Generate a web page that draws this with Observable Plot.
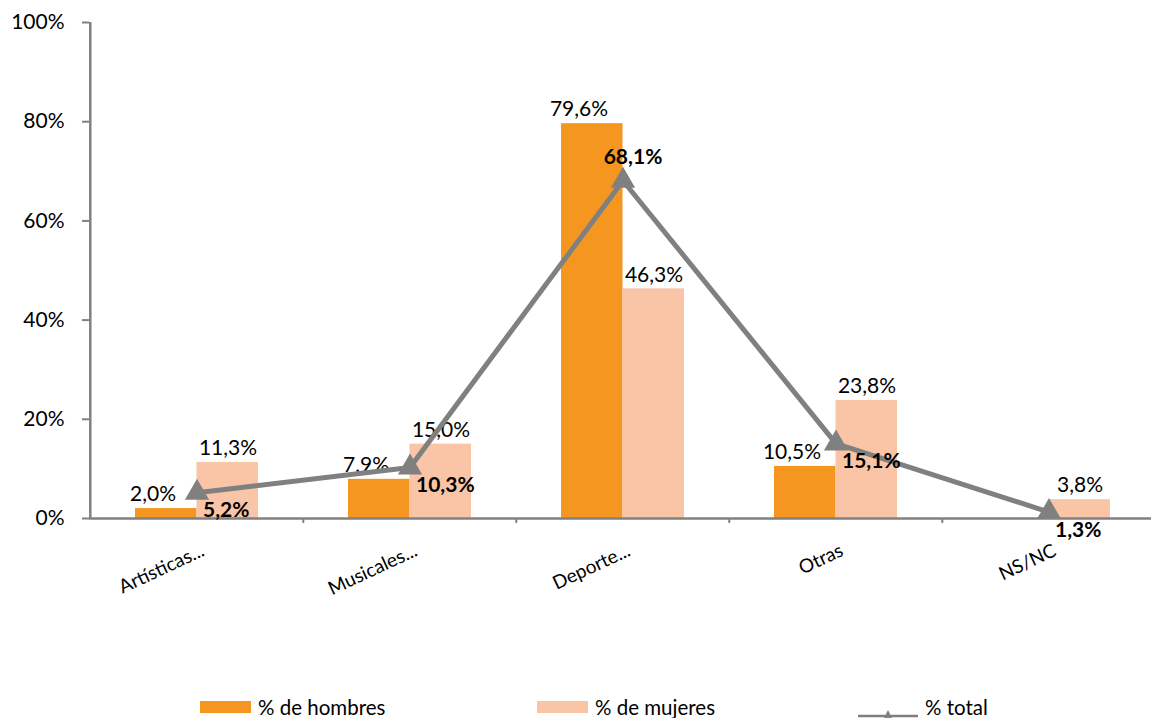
<!DOCTYPE html>
<html>
<head>
<meta charset="utf-8">
<script src="https://cdn.jsdelivr.net/npm/d3@7"></script>
<script src="https://cdn.jsdelivr.net/npm/@observablehq/plot@0.6"></script>
<style>
  body { margin: 0; background: #fff; font-family: Lato, "Open Sans", sans-serif; }
  #chart { position: relative; width: 1151px; }
  .legend { position: relative; width: 1151px; height: 23px; font-size: 20.5px; color: #000; }
  .legend .item { position: absolute; top: 0; display: flex; align-items: center; height: 23px; }
  .sw { width: 51px; height: 12px; margin-right: 7px; }
  .ln { position: relative; width: 60px; height: 12px; margin-right: 7px; }
</style>
</head>
<body>
<div id="chart"></div>
<div class="legend" id="legend"></div>
<script>
const categories = ["Artísticas...", "Musicales...", "Deporte...", "Otras", "NS/NC"];
const hombres = [2.0, 7.9, 79.6, 10.5, 0];
const mujeres = [11.3, 15.0, 46.3, 23.8, 3.8];
const total = [5.2, 10.3, 68.1, 15.1, 1.3];
const yTicks = [0, 20, 40, 60, 80, 100];
const seriesNames = ["% de hombres", "% de mujeres", "% total"];

const cOrange = "#F4961F";
const cPeach = "#FAC5A6";
const cGray = "#808080";

const fmt = v => v.toFixed(1).replace(".", ",") + "%";

const rows = categories.map((c, i) => ({cat: c, h: hombres[i], m: mujeres[i], t: total[i]}));

const W = 1151, H = 695;
const step = (1156 - 89) / 5;
const FS = 21;

const plot = Plot.plot({
  width: W,
  height: H,
  marginLeft: 89,
  marginRight: 0,
  marginTop: 22,
  marginBottom: 177,
  style: {fontFamily: "Lato, 'Open Sans', sans-serif", color: "#000", background: "#fff"},
  x: {type: "band", domain: categories, range: [89, 1156], paddingInner: 0.424, paddingOuter: 0.212, align: 0.5},
  y: {domain: [0, 100], ticks: yTicks},
  marks: [
    Plot.barY(rows, {x: "cat", y: "h", fill: cOrange, insetRight: 61.5, insetLeft: 0}),
    Plot.barY(rows, {x: "cat", y: "m", fill: cPeach, insetLeft: 61.5, insetRight: 0}),
    Plot.ruleY([0], {stroke: cGray, strokeWidth: 2.5}),
    Plot.ruleX([0], {x: () => categories[0], y1: 0, y2: 100, dx: -step / 2, stroke: cGray, strokeWidth: 2.5}),
    Plot.ruleX(categories.slice(1), {x: d => d, y1: 0, y2: -1, dx: -step / 2, stroke: cGray, strokeWidth: 2}),
    Plot.axisY({ticks: yTicks, tickFormat: d => d + "%", tickSize: 7, tickPadding: 18, fontSize: FS, stroke: cGray, strokeWidth: 2, anchor: "left"}),
    Plot.axisX({tickSize: 0, tickRotate: -25, tickPadding: 31, dx: 6, fontSize: 19, label: null}),
    Plot.text(rows.filter(d => d.h > 0), {x: "cat", y: "h", text: d => fmt(d.h), dx: -44, dy: -14, fontSize: FS, fill: "#000"}),
    Plot.text(rows, {x: "cat", y: "m", text: d => fmt(d.m), dx: 31, dy: -14, fontSize: FS, fill: "#000"}),
    Plot.line(rows, {x: "cat", y: "t", stroke: cGray, strokeWidth: 5}),
    Plot.dot(rows, {x: "cat", y: "t", symbol: "triangle", r: 9, fill: cGray, stroke: "none"}),
    Plot.text(rows.filter(d => d.t !== d3.max(total)), {x: "cat", y: "t", text: d => fmt(d.t), dx: 6, dy: 18, textAnchor: "start", fontSize: FS, fontWeight: "bold", fill: "#000"}),
    Plot.text(rows.filter(d => d.t === d3.max(total)), {x: "cat", y: "t", text: d => fmt(d.t), dx: 10, dy: -23, fontSize: FS, fontWeight: "bold", fill: "#000"})
  ]
});
document.getElementById("chart").appendChild(plot);

// Legend
const legend = document.getElementById("legend");
const items = [
  {name: seriesNames[0], type: "bar", color: cOrange, left: 200},
  {name: seriesNames[1], type: "bar", color: cPeach, left: 537},
  {name: seriesNames[2], type: "line", color: cGray, left: 858}
];
for (const it of items) {
  const div = document.createElement("div");
  div.className = "item";
  div.style.left = it.left + "px";
  if (it.type === "bar") {
    const s = document.createElement("div");
    s.className = "sw";
    s.style.background = it.color;
    div.appendChild(s);
  } else {
    const s = document.createElement("div");
    s.className = "ln";
    s.innerHTML = `<svg width="60" height="12"><line x1="0" y1="7" x2="60" y2="7" stroke="${it.color}" stroke-width="2.5"/><path d="M30,1 L35,11 L25,11 Z" fill="${it.color}"/></svg>`;
    div.appendChild(s);
  }
  const t = document.createElement("span");
  t.textContent = it.name;
  div.appendChild(t);
  legend.appendChild(div);
}
</script>
</body>
</html>
